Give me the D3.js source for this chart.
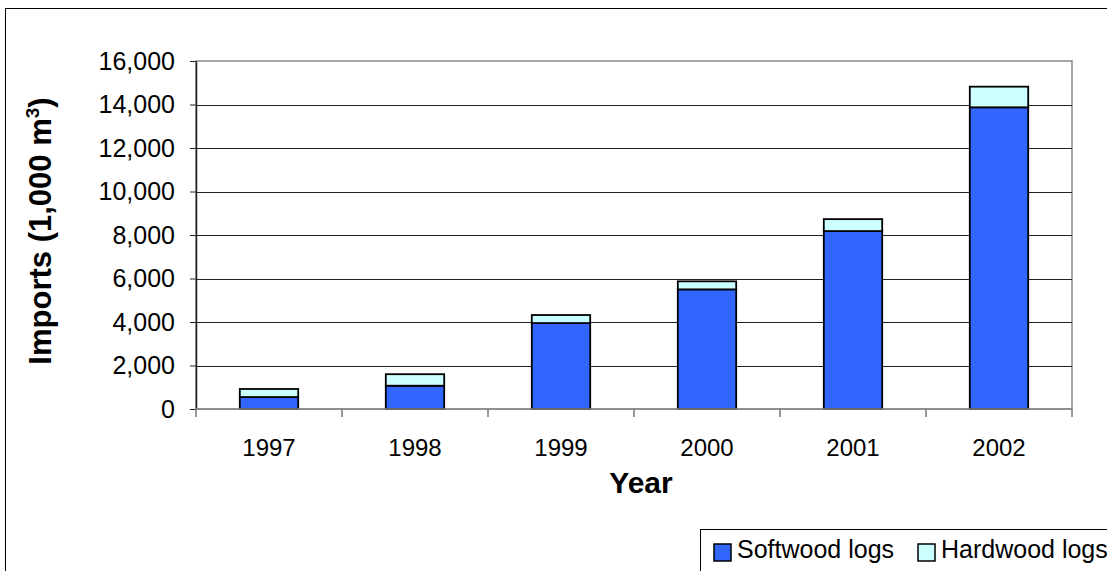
<!DOCTYPE html>
<html>
<head>
<meta charset="utf-8">
<script src="https://cdn.jsdelivr.net/npm/d3@7"></script>
<style>
  body { margin: 0; background: #fff; }
  svg { display: block; font-family: Arial, "Liberation Sans", sans-serif; }
</style>
</head>
<body>
<script>
let years = ["1997", "1998", "1999", "2000", "2001", "2002"];
let softwood = [550, 1070, 3950, 5500, 8180, 13870];
let hardwood = [370, 530, 370, 370, 550, 950];
let yTicks = [0, 2000, 4000, 6000, 8000, 10000, 12000, 14000, 16000];
let seriesNames = ["Softwood logs", "Hardwood logs"];
let colors = ["#3366ff", "#ccffff"];

let W = 1107, H = 571;
let margin = {top: 61, right: 35, bottom: 162, left: 196};
let width = W - margin.left - margin.right;
let height = H - margin.top - margin.bottom;

let root = d3.select("body").append("svg")
  .attr("width", W)
  .attr("height", H);

// outer chart frame
root.append("rect")
  .attr("x", 5.5).attr("y", 8.5)
  .attr("width", 1120).attr("height", 600)
  .attr("fill", "none").attr("stroke", "#000").attr("stroke-width", 1);

let svg = root.append("g")
  .attr("transform", "translate(" + margin.left + "," + margin.top + ")");

let xScale = d3.scaleBand().domain(years).range([0, width]).paddingInner(0.6).paddingOuter(0.3);
let yScale = d3.scaleLinear().domain([0, 16000]).range([height, 0]);

// plot area border (top/right gray)
svg.append("rect")
  .attr("x", 0).attr("y", 0)
  .attr("width", width).attr("height", height)
  .attr("fill", "none").attr("stroke", "#888").attr("stroke-width", 1.5);

// gridlines
svg.append("g")
  .selectAll("line")
  .data(yTicks.filter(d => d > 0 && d < 16000))
  .enter().append("line")
  .attr("x1", 0).attr("x2", width)
  .attr("y1", d => Math.round(yScale(d)) + 0.5)
  .attr("y2", d => Math.round(yScale(d)) + 0.5)
  .attr("stroke", "#222").attr("stroke-width", 1);

// stacked bars
let stack = d3.stack().keys([0, 1]).value((d, k) => d[k]);
let rows = years.map((y, i) => [softwood[i], hardwood[i]]);
let layers = stack(rows);

svg.selectAll(".layer")
  .data(layers)
  .enter().append("g")
  .attr("class", "layer")
  .attr("fill", (d, i) => colors[i])
  .selectAll("rect")
  .data(d => d)
  .enter().append("rect")
  .attr("x", (d, i) => xScale(years[i]))
  .attr("width", xScale.bandwidth())
  .attr("y", d => yScale(d[1]))
  .attr("height", d => yScale(d[0]) - yScale(d[1]))
  .attr("stroke", "#000").attr("stroke-width", 1.8);

// y axis
let yAxis = d3.axisLeft(yScale).tickValues(yTicks).tickSizeInner(6).tickSizeOuter(0)
  .tickFormat(d3.format(","));
let gy = svg.append("g").attr("class", "y axis").call(yAxis);
gy.select(".domain").attr("stroke", "#222").attr("stroke-width", 1.5);
gy.selectAll(".tick line").attr("stroke", "#222");
gy.selectAll(".tick text")
  .attr("x", -21)
  .style("font-size", "25px").style("fill", "#000")
  .attr("font-family", "Arial, 'Liberation Sans', sans-serif");

// x axis
let xPos = d3.scaleLinear().domain([0, years.length]).range([0, width]);
let gx = svg.append("g").attr("transform", "translate(0," + height + ")");
gx.append("line")
  .attr("x1", 0).attr("x2", width)
  .attr("y1", 0).attr("y2", 0)
  .attr("stroke", "#888").attr("stroke-width", 1.5);
gx.selectAll(".xtick")
  .data(d3.range(years.length + 1))
  .enter().append("line")
  .attr("x1", d => xPos(d)).attr("x2", d => xPos(d))
  .attr("y1", 0).attr("y2", 8)
  .attr("stroke", "#777").attr("stroke-width", 1.5);
gx.selectAll(".xlab")
  .data(years)
  .enter().append("text")
  .attr("x", d => xScale(d) + xScale.bandwidth() / 2)
  .attr("y", 47)
  .attr("text-anchor", "middle")
  .style("font-size", "24px")
  .text(d => d);

// axis titles
svg.append("text")
  .attr("x", 641 - margin.left)
  .attr("y", 493 - margin.top)
  .attr("text-anchor", "middle")
  .style("font-size", "30px").style("font-weight", "bold")
  .text("Year");

let yt = root.append("text")
  .attr("transform", "translate(51,231) rotate(-90)")
  .attr("text-anchor", "middle")
  .style("font-size", "31px").style("font-weight", "bold");
yt.append("tspan").text("Imports (1,000 m");
yt.append("tspan").attr("dy", -12).style("font-size", "19px").text("3");
yt.append("tspan").attr("dy", 12).text(")");

// legend
let legend = root.append("g");
legend.append("rect")
  .attr("x", 700.5).attr("y", 529.5)
  .attr("width", 450).attr("height", 80)
  .attr("fill", "#fff").attr("stroke", "#000").attr("stroke-width", 1);
let legX = [714, 918];
let items = legend.selectAll(".item")
  .data(seriesNames)
  .enter().append("g")
  .attr("transform", (d, i) => "translate(" + legX[i] + ",544)");
items.append("rect")
  .attr("width", 17).attr("height", 17)
  .attr("fill", (d, i) => colors[i])
  .attr("stroke", "#000").attr("stroke-width", 1.5);
items.append("text")
  .attr("x", 23).attr("y", 14)
  .style("font-size", "25px")
  .text(d => d);
</script>
</body>
</html>
